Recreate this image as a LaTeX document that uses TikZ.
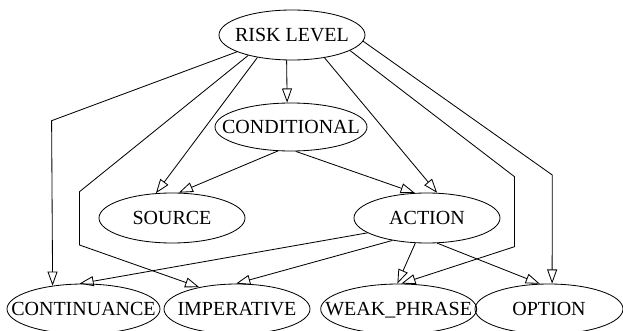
\documentclass[tikz,border=0pt]{standalone}
\usepackage{fontspec}
\setmainfont{Liberation Serif}
\usetikzlibrary{arrows.meta,shapes.geometric}
\newcommand{\elabel}[1]{\makebox[0pt]{\raisebox{-0.33em}[0pt][0pt]{#1}}}

\begin{document}
\begin{tikzpicture}[x=0.6pt,y=-0.6pt,font=\fontsize{12}{14}\selectfont]
\tikzset{
  var/.style={ellipse,draw,line width=0.5pt,inner sep=0pt,minimum height=30pt},
  dep/.style={-{Triangle[open,length=8.5pt,width=6pt]},line width=0.5pt}
}
\useasboundingbox (0,0) rectangle (623,331);
\node[var,minimum width=87.6pt] (risk) at (292,35) {\elabel{RISK LEVEL}};
\node[var,minimum width=91.2pt,minimum height=28.8pt] (cond) at (291,127) {\elabel{CONDITIONAL}};
\node[var,minimum width=87.6pt] (source) at (172,218) {\elabel{SOURCE}};
\node[var,minimum width=87.6pt] (action) at (427,218) {\elabel{ACTION}};
\node[var,minimum width=91.8pt] (cont) at (83.5,309) {\elabel{CONTINUANCE}};
\node[var,minimum width=87.6pt] (imp) at (237,309) {\elabel{IMPERATIVE}};
\node[var,minimum width=93.6pt] (weak) at (398.7,309) {\elabel{WEAK\_PHRASE}};
\node[var,minimum width=88.8pt] (option) at (549,309) {\elabel{OPTION}};
% bends of the long edges
\coordinate (c1) at (51.6,120.7);
\coordinate (i1) at (79.5,191.7);
\coordinate (i2) at (79.5,245);
\coordinate (w1) at (514.5,176.7);
\coordinate (w2) at (514.5,246.7);
\coordinate (o1) at (552.3,175);
% from risk level
\draw[dep] (risk.197) -- (c1) -- (cont.143);
\draw[dep] (risk.205) -- (i1) -- (i2) -- (imp.150);
\draw[dep] (risk.213) -- (source.123);
\draw[dep] (risk.258) -- (cond.99);
\draw[dep] (risk.325) -- (action.68);
\draw[dep] (risk.345) -- (w1) -- (w2) -- (weak.84);
\draw[dep] (risk.355) -- (o1) -- (option.83);
% from conditional
\draw[dep] (cond.241) -- (source.75);
\draw[dep] (cond.281) -- (action.116);
% from action
\draw[dep] (action.194) -- (cont.99);
\draw[dep] (action.213) -- (imp.92);
\draw[dep] (action.245) -- (weak.93);
\draw[dep] (action.292) -- (option.110);
\end{tikzpicture}
\end{document}
